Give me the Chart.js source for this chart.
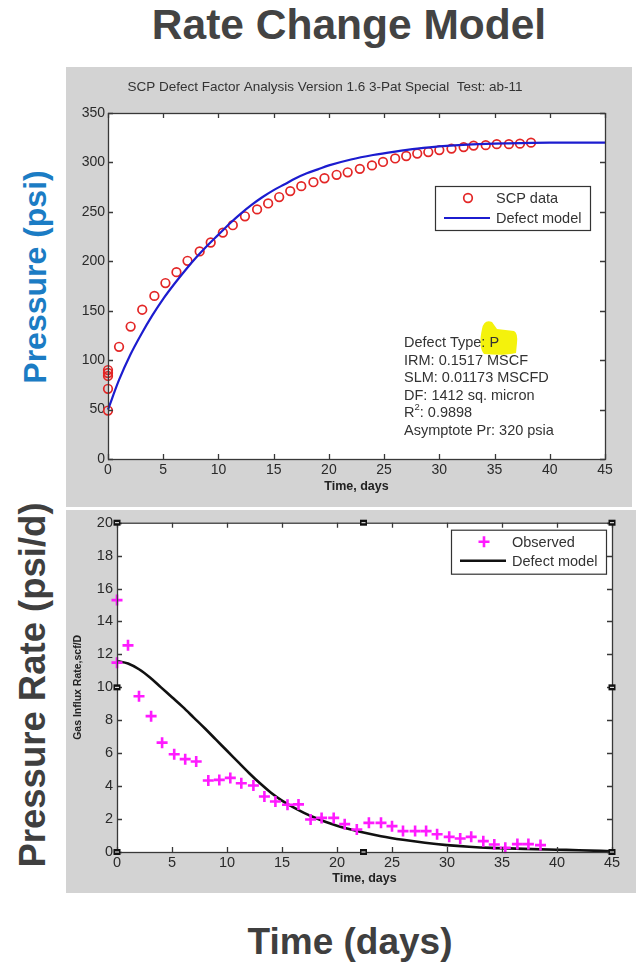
<!DOCTYPE html>
<html><head><meta charset="utf-8">
<script src="https://cdn.jsdelivr.net/npm/chart.js@4/dist/chart.umd.min.js"></script>
<style>
body{margin:0;width:644px;height:966px;background:#fff;position:relative;overflow:hidden;font-family:"Liberation Sans",Arial,sans-serif;}
.panel{position:absolute;background:#d3d3d3;}
#p1{left:66px;top:67px;width:566px;height:440px;}
#p2{left:66px;top:510px;width:570px;height:383px;}
canvas{display:block}
.big{position:absolute;font-weight:bold;white-space:nowrap;transform-origin:center center;}
#mainTitle{left:349px;top:25px;font-size:42.5px;color:#434343;transform:translate(-50%,-50%);}
#yTop{left:35px;top:277px;font-size:32px;color:#1b7cc4;transform:translate(-50%,-50%) rotate(-90deg);}
#yBot{left:33px;top:685px;font-size:36.5px;color:#3f3f3f;transform:translate(-50%,-50%) rotate(-90deg);}
#xBot{left:350px;top:942px;font-size:37px;color:#3f3f3f;transform:translate(-50%,-50%);}
</style></head>
<body>
<div class="big" id="mainTitle">Rate Change Model</div>
<div class="big" id="yTop">Pressure (psi)</div>
<div class="big" id="yBot">Pressure Rate (psi/d)</div>
<div class="big" id="xBot">Time (days)</div>
<div class="panel" id="p1"><canvas id="c1" width="566" height="440"></canvas></div>
<div class="panel" id="p2"><canvas id="c2" width="570" height="383"></canvas></div>
<script>
// ---------- Data ----------
const scpTimes = [0,0,0,0,0,1,2.05,3.1,4.2,5.2,6.2,7.2,8.3,9.3,10.4,11.3,12.4,13.5,14.5,15.5,16.5,17.5,18.6,19.6,20.7,21.7,22.8,23.9,24.9,26,27,28,29,30,31.1,32.2,33.1,34.2,35.2,36.3,37.3,38.3];
const scpPressure = [49,71,84,87,90,113.5,134,151,165,178,189,200.5,210,219,229,236.5,245.5,252.5,258.5,265,271,276,280,284,287.5,290,293.5,297,300.5,304,306.5,309,310.5,312.5,314,315.5,317,317.5,318.5,318.5,319,320];
const pModelTimes = [0,1,2,3,4,5,6,7,8,9,10,11,12,13,14,15,16,17,18,19,20,22,24,26,28,30,33,36,40,45];
const pModelPressure = [50,80,105,126,145,162,177,191,204,216,227,238,248,257,265,272,278,284,289,293,297,303,307.5,311,314,316.3,318.3,319.3,320,320];

const obsTimes = [0,0,1,2,3.1,4.1,5.2,6.2,7.2,8.3,9.3,10.3,11.3,12.4,13.4,14.4,15.5,16.5,17.6,18.6,19.7,20.7,21.8,22.9,24,25,26,27.1,28.1,29.1,30.2,31.2,32.2,33.3,34.3,35.3,36.4,37.4,38.5];
const obsRate = [15.3,11.5,12.55,9.46,8.25,6.64,5.94,5.64,5.5,4.34,4.38,4.5,4.18,4.04,3.37,3.07,2.87,2.89,1.97,2.07,2.07,1.69,1.37,1.77,1.77,1.57,1.27,1.27,1.27,1.08,0.92,0.82,0.92,0.66,0.46,0.26,0.48,0.48,0.42];
const rModelTimes = [0,1,2,3,4,5,6,7,8,9,10,11,12,13,14,15,16,17,18,19,20,21,22,24,26,28,30,32,34,37,40,42,45];
const rModelRate = [11.6,11.45,11.1,10.6,10.0,9.4,8.8,8.15,7.5,6.82,6.15,5.47,4.8,4.17,3.6,3.12,2.72,2.38,2.08,1.82,1.6,1.41,1.24,0.96,0.74,0.56,0.42,0.32,0.25,0.19,0.14,0.11,0.05];

const topTitle = "SCP Defect Factor Analysis Version 1.6 3-Pat Special  Test: ab-11";
const xTitle = "Time, days";
const yBotTitle = "Gas Influx Rate,scf/D";
const topLegend = ["SCP data", "Defect model"];
const botLegend = ["Observed", "Defect model"];
const noteLines = ["Defect Type: P", "IRM: 0.1517 MSCF", "SLM: 0.01173 MSCFD", "DF: 1412 sq. micron", "R2: 0.9898", "Asymptote Pr: 320 psia"];

const pts = (xs, ys) => xs.map((x, i) => ({x, y: ys[i]}));
const FONT = '"Liberation Sans", Arial, sans-serif';
const AX = '#383838';

// ---------- plugins ----------
const bgPlugin = {
  id: 'areaBg',
  beforeDraw(chart) {
    const {ctx, chartArea: a} = chart;
    ctx.save(); ctx.fillStyle = '#ffffff';
    ctx.fillRect(a.left, a.top, a.right - a.left, a.bottom - a.top);
    ctx.restore();
  }
};

const framePlugin = {
  id: 'frame',
  afterDatasetsDraw(chart, args, o) {
    if (!o || !o.on) return;
    const {ctx, chartArea: a, scales} = chart;
    ctx.save();
    ctx.strokeStyle = AX; ctx.lineWidth = 1.3;
    ctx.strokeRect(a.left + 0.5, a.top + 0.5, a.right - a.left, a.bottom - a.top);
    const L = o.tick;
    ctx.beginPath();
    scales.x.ticks.forEach(t => {
      const px = Math.round(scales.x.getPixelForValue(t.value)) + 0.5;
      ctx.moveTo(px, a.bottom); ctx.lineTo(px, a.bottom - L);
      ctx.moveTo(px, a.top); ctx.lineTo(px, a.top + L);
    });
    scales.y.ticks.forEach(t => {
      const py = Math.round(scales.y.getPixelForValue(t.value)) + 0.5;
      ctx.moveTo(a.left, py); ctx.lineTo(a.left + L, py);
      ctx.moveTo(a.right, py); ctx.lineTo(a.right - L, py);
    });
    ctx.stroke();
    if (o.handles) {
      ctx.fillStyle = '#111';
      const mx = (a.left + a.right) / 2 - 1, my = (a.top + a.bottom) / 2;
      [[a.left, a.top], [mx, a.top], [a.right, a.top], [a.right, my], [a.right, a.bottom], [mx, a.bottom], [a.left, a.bottom], [a.left, my]].forEach(([x, y]) => {
        ctx.fillRect(x - 3.5, y - 3, 7, 6);
        ctx.fillStyle = '#fff'; ctx.fillRect(x - 2, y - 0.5, 4, 1); ctx.fillStyle = '#111';
      });
    }
    ctx.restore();
  }
};

const legendPlugin = {
  id: 'boxLegend',
  afterDraw(chart, args, o) {
    if (!o || !o.labels) return;
    const {ctx, chartArea: a} = chart;
    const L = a.right - o.right - o.width, T = a.top + o.top;
    ctx.save();
    ctx.fillStyle = '#fff'; ctx.fillRect(L, T, o.width, o.height);
    ctx.strokeStyle = '#333'; ctx.lineWidth = 1.2; ctx.strokeRect(L + 0.5, T + 0.5, o.width, o.height);
    ctx.font = o.fontSize + 'px ' + FONT; ctx.textBaseline = 'middle'; ctx.fillStyle = '#333';
    o.labels.forEach((txt, i) => {
      const ds = chart.data.datasets[i];
      const y = T + o.rows[i];
      ctx.strokeStyle = ds.borderColor; ctx.lineWidth = ds.borderWidth;
      if (ds.showLine) {
        ctx.beginPath(); ctx.moveTo(L + 9, y); ctx.lineTo(L + 55, y); ctx.stroke();
      } else if (ds.pointStyle === 'circle') {
        ctx.beginPath(); ctx.arc(L + 33, y, ds.pointRadius, 0, Math.PI * 2); ctx.stroke();
      } else {
        const r = ds.pointRadius;
        ctx.beginPath(); ctx.moveTo(L + 33 - r, y); ctx.lineTo(L + 33 + r, y); ctx.moveTo(L + 33, y - r); ctx.lineTo(L + 33, y + r); ctx.stroke();
      }
      ctx.fillStyle = '#333';
      ctx.fillText(txt, L + 61, y + 1);
    });
    ctx.restore();
  }
};

const textPlugin = {
  id: 'texts',
  afterDraw(chart, args, o) {
    if (!o || !o.on) return;
    const {ctx, chartArea: a} = chart;
    ctx.save();
    ctx.fillStyle = '#333';
    ctx.font = '13.5px ' + FONT; ctx.textAlign = 'center'; ctx.textBaseline = 'middle';
    ctx.fillText(o.title, o.titleX, o.titleY);
    const hx = a.left + o.noteX, hy = a.top + o.noteY;
    ctx.fillStyle = '#f4f20c';
    ctx.beginPath();
    ctx.moveTo(hx + 78, hy - 14);
    ctx.quadraticCurveTo(hx + 80, hy - 24, hx + 88, hy - 21);
    ctx.lineTo(hx + 93, hy - 14);
    ctx.lineTo(hx + 110, hy - 12);
    ctx.quadraticCurveTo(hx + 114, hy - 10, hx + 113, hy);
    ctx.lineTo(hx + 112, hy + 10);
    ctx.quadraticCurveTo(hx + 100, hy + 13, hx + 80, hy + 11);
    ctx.quadraticCurveTo(hx + 74, hy + 4, hx + 78, hy - 14);
    ctx.fill();
    ctx.fillStyle = '#333';
    ctx.font = '14.5px ' + FONT; ctx.textAlign = 'left';
    o.lines.forEach((s, i) => {
      const y = hy + i * o.step;
      if (s.startsWith('R2')) {
        ctx.fillText('R', hx, y);
        const w = ctx.measureText('R').width;
        ctx.font = '9.5px ' + FONT;
        ctx.fillText('2', hx + w, y - 6);
        const w2 = ctx.measureText('2').width;
        ctx.font = '14.5px ' + FONT;
        ctx.fillText(s.slice(2), hx + w + w2, y);
      } else ctx.fillText(s, hx, y);
    });
    ctx.restore();
  }
};

// ---------- top chart ----------
new Chart(document.getElementById('c1'), {
  type: 'scatter',
  data: {datasets: [
    {label: topLegend[0], data: pts(scpTimes, scpPressure), pointStyle: 'circle', pointRadius: 4.3, borderWidth: 1.7,
     borderColor: '#e32626', backgroundColor: 'rgba(0,0,0,0)', showLine: false, clip: false, order: 2},
    {label: topLegend[1], data: pts(pModelTimes, pModelPressure), showLine: true, pointRadius: 0, borderWidth: 2.2,
     borderColor: '#1c1ccf', backgroundColor: '#1c1ccf', cubicInterpolationMode: 'monotone', clip: false, order: 1}
  ]},
  options: {
    responsive: false, animation: false, devicePixelRatio: 1,
    layout: {padding: {top: 46, right: 27, left: 0, bottom: 0}},
    plugins: {legend: {display: false}, tooltip: {enabled: false}, title: {display: false},
      frame: {on: true, tick: 5},
      boxLegend: {labels: topLegend, right: 15, top: 73, width: 155, height: 44, rows: [12, 32], fontSize: 14.5},
      texts: {on: true, title: topTitle, titleX: 259, titleY: 20, lines: noteLines, noteX: 296, noteY: 230, step: 17.6}
    },
    scales: {
      x: {type: 'linear', min: 0, max: 45,
        afterFit: s => { s.height = 48; },
        ticks: {stepSize: 5, color: '#2a2a2a', font: {size: 14, family: FONT}, padding: 3, maxRotation: 0},
        grid: {display: false, drawTicks: false}, border: {display: false},
        title: {display: true, text: xTitle, color: '#222', font: {size: 12.5, weight: 'bold', family: FONT}, padding: {top: 0, bottom: 13}}},
      y: {type: 'linear', min: 0, max: 350,
        afterFit: s => { s.width = 42; },
        ticks: {stepSize: 50, color: '#2a2a2a', font: {size: 14, family: FONT}, padding: 3},
        grid: {display: false, drawTicks: false}, border: {display: false}}
    }
  },
  plugins: [bgPlugin, framePlugin, legendPlugin, textPlugin]
});

// ---------- bottom chart ----------
new Chart(document.getElementById('c2'), {
  type: 'scatter',
  data: {datasets: [
    {label: botLegend[0], data: pts(obsTimes, obsRate), pointStyle: 'cross', pointRadius: 5.5, borderWidth: 2.6,
     borderColor: '#ff1aff', backgroundColor: '#ff1aff', showLine: false, clip: false, order: 1},
    {label: botLegend[1], data: pts(rModelTimes, rModelRate), showLine: true, pointRadius: 0, borderWidth: 2.6,
     borderColor: '#111111', backgroundColor: '#111111', cubicInterpolationMode: 'monotone', clip: false, order: 2}
  ]},
  options: {
    responsive: false, animation: false, devicePixelRatio: 1,
    layout: {padding: {top: 10, right: 24, left: 0, bottom: 0}},
    plugins: {legend: {display: false}, tooltip: {enabled: false}, title: {display: false},
      frame: {on: true, tick: 5, handles: true},
      boxLegend: {labels: botLegend, right: 6, top: 7, width: 155, height: 44, rows: [12, 31], fontSize: 14.5}
    },
    scales: {
      x: {type: 'linear', min: 0, max: 45,
        afterFit: s => { s.height = 41; },
        ticks: {stepSize: 5, color: '#2a2a2a', font: {size: 14.5, family: FONT}, padding: 2, maxRotation: 0},
        grid: {display: false, drawTicks: false}, border: {display: false},
        title: {display: true, text: xTitle, color: '#222', font: {size: 12.5, weight: 'bold', family: FONT}, padding: {top: 0, bottom: 7}}},
      y: {type: 'linear', min: 0, max: 20,
        afterFit: s => { s.width = 51; },
        ticks: {stepSize: 2, color: '#2a2a2a', font: {size: 14.5, family: FONT}, padding: 4},
        grid: {display: false, drawTicks: false}, border: {display: false},
        title: {display: true, text: yBotTitle, color: '#222', font: {size: 10.5, weight: 'bold', family: FONT}, padding: {top: 6, bottom: 0}}}
    }
  },
  plugins: [bgPlugin, framePlugin, legendPlugin]
});
</script>
</body></html>
